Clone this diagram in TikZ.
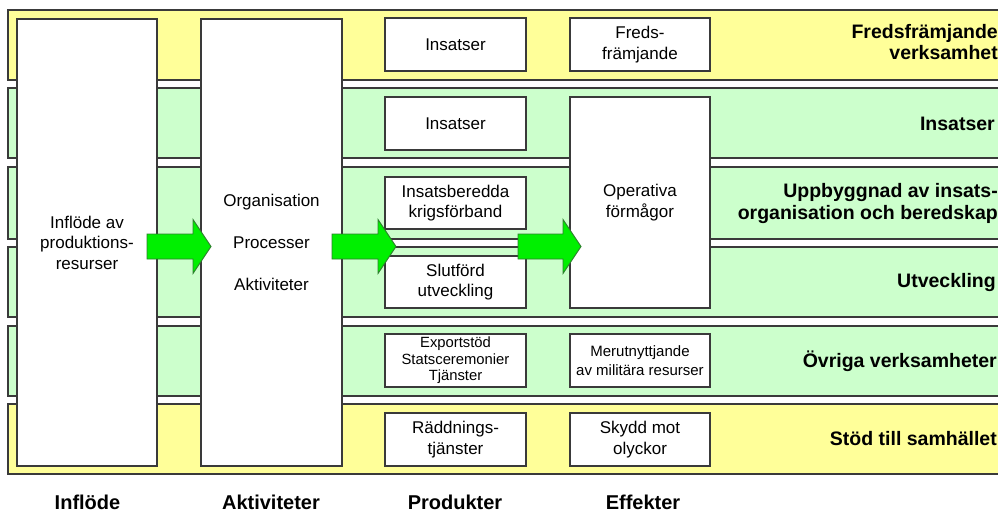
\documentclass[tikz,border=0pt]{standalone}
\usepackage{fontspec}
\setmainfont{Liberation Sans}
\definecolor{bandyellow}{HTML}{FFFF99}
\definecolor{bandgreen}{HTML}{CCFFCC}
\definecolor{arrowgreen}{HTML}{00F000}
\definecolor{arrowedge}{HTML}{2E7D2E}
\definecolor{edge}{HTML}{3A3A3A}
\begin{document}
\begin{tikzpicture}[x=1pt,y=-1pt,
  outline/.style={draw=edge, line width=1.1pt},
  band/.style={outline, inner sep=0pt, minimum width=1010pt, minimum height=70pt},
  bigbox/.style={outline, fill=white, inner sep=0pt, minimum width=140pt, minimum height=447pt, align=center},
  smallbox/.style={outline, fill=white, inner sep=0pt, minimum width=141pt, minimum height=53pt, align=center, font=\fontsize{17}{20.5}\selectfont},
  rowlabel/.style={anchor=east, align=right, inner sep=0pt, font=\bfseries\fontsize{19.5}{21.5}\selectfont},
  collabel/.style={inner sep=0pt, font=\bfseries\fontsize{20}{24}\selectfont},
  blockarrow/.style={draw=arrowedge, line width=0.9pt, fill=arrowgreen, line join=miter},
]
\useasboundingbox (0,0) rectangle (998,512);
\fill[white] (0,0) rectangle (998,512);
\clip (0,0) rectangle (998,512);

% bands
\node[band, fill=bandyellow] (b1) at (513,45) {};
\node[band, fill=bandgreen] (b2) at (513,123) {};
\node[band, fill=bandgreen, minimum height=72pt] (b3) at (513,203) {};
\node[band, fill=bandgreen] (b4) at (513,282) {};
\node[band, fill=bandgreen] (b5) at (513,361) {};
\node[band, fill=bandyellow] (b6) at (513,439) {};

% big columns
\node[bigbox, font=\fontsize{17}{20.5}\selectfont] (inflode) at (87,242.5) {Inflöde av\\produktions-\\resurser};
\node[bigbox, minimum width=141pt, font=\fontsize{17}{42}\selectfont] (aktiv) at (271.5,242.5) {Organisation\\Processer\\Aktiviteter};

% product / effect boxes
\node[smallbox] (p1) at (455.5,44.5) {Insatser};
\node[smallbox, minimum width=140pt] (e1) at (640,44.5) {Freds-\\främjande};
\node[smallbox] (p2) at (455.5,123.5) {Insatser};
\node[smallbox, minimum width=140pt, minimum height=211pt] (operativa) at (640,202.5) {Operativa\\förmågor};
\node[smallbox, minimum height=52pt] (p3) at (455.5,203) {Insatsberedda\\krigsförband};
\node[smallbox, minimum height=52pt] (p4) at (455.5,282) {Slutförd\\utveckling};
\node[smallbox, font=\fontsize{14.8}{16.5}\selectfont] (p5) at (455.5,360.5) {Exportstöd\\Statsceremonier\\Tjänster};
\node[smallbox, minimum width=140pt, font=\fontsize{15}{19}\selectfont] (e5) at (640,360.5) {Merutnyttjande\\av militära resurser};
\node[smallbox] (p6) at (455.5,439.5) {Räddnings-\\tjänster};
\node[smallbox, minimum width=140pt] (e6) at (640,439.5) {Skydd mot\\olyckor};

% block arrows
\coordinate (a1) at (147,246.5);
\coordinate (a2) at (332,246.5);
\coordinate (a3) at (518,246.5);
\foreach \c/\len in {a1/46, a2/46, a3/45}{
  \draw[blockarrow] (\c) ++(0,-12.5) -- ++(\len,0) -- ++(0,-14.5) -- ++(18,27) -- ++(-18,27) -- ++(0,-14.5) -- ++(-\len,0) -- cycle;
}

% row labels
\node[rowlabel] (r1) at (998,42) {Fredsfrämjande\\verksamhet};
\node[rowlabel] (r2) at (995,124) {Insatser};
\node[rowlabel] (r3) at (998,203.5) {Uppbyggnad av insats-\\organisation och beredskap};
\node[rowlabel] (r4) at (996,282) {Utveckling};
\node[rowlabel] (r5) at (997,361) {Övriga verksamheter};
\node[rowlabel] (r6) at (997,439) {Stöd till samhället};

% column labels
\node[collabel] (c1) at (87.5,502) {Inflöde};
\node[collabel] (c2) at (271,502) {Aktiviteter};
\node[collabel] (c3) at (455,502) {Produkter};
\node[collabel] (c4) at (643,502) {Effekter};
\end{tikzpicture}
\end{document}
